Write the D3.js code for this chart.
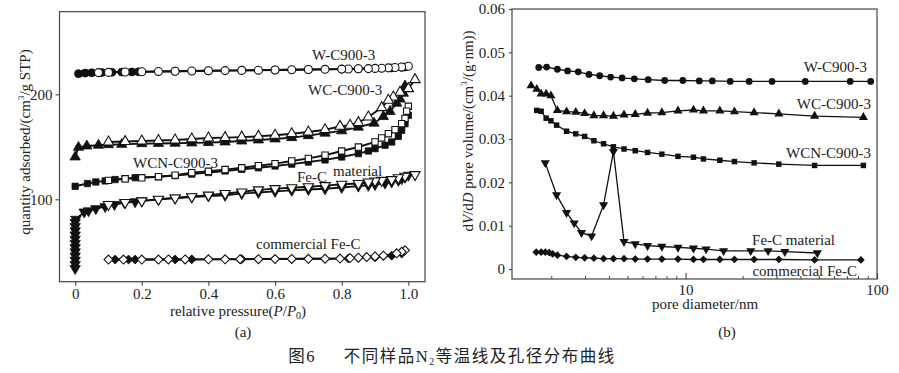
<!DOCTYPE html>
<html><head><meta charset="utf-8">
<script src="https://cdn.jsdelivr.net/npm/d3@7/dist/d3.min.js"></script>
<style>
html,body{margin:0;padding:0;background:#fff;}
svg{display:block;font-family:"Liberation Serif","Times New Roman",serif;}
</style></head>
<body>
<svg id="chart" width="899" height="373"></svg>
<script>
// ---------- (a) N2 isotherms: [P/P0, quantity adsorbed] ----------
const wAds = [[0.01,219.7],[0.03,220.2],[0.05,220.5],[0.08,220.8],[0.11,221.0],[0.14,221.2],[0.17,221.3],[0.19,221.4],[0.3,222.0],[0.4,222.4],[0.5,222.8],[0.6,223.2],[0.7,223.6],[0.8,224.0],[0.85,224.3],[0.9,224.6],[0.95,225.1],[0.98,225.7],[0.99,226.0]];
const wDes = [[1.0,226.7],[0.98,226.0],[0.96,225.5],[0.94,225.2],[0.92,224.9],[0.9,224.7],[0.88,224.5],[0.85,224.3],[0.82,224.1],[0.8,224.0],[0.75,223.8],[0.7,223.6],[0.65,223.4],[0.6,223.2],[0.55,223.0],[0.5,222.8],[0.45,222.6],[0.4,222.4],[0.35,222.2],[0.3,222.0],[0.25,221.8],[0.2,221.5],[0.15,221.2],[0.1,220.9],[0.07,220.7]];
const wcAds = [[0.0,140.3],[0.01,149.5],[0.035,150.8],[0.07,151.5],[0.1,152.0],[0.14,152.3],[0.2,153.0],[0.25,153.2],[0.3,153.4],[0.35,153.7],[0.4,154.0],[0.45,154.6],[0.5,155.5],[0.55,156.5],[0.6,157.5],[0.65,158.7],[0.7,160.6],[0.75,163.0],[0.8,165.2],[0.85,168.7],[0.897,172.5],[0.925,178.8],[0.945,183.6],[0.965,191.5],[0.975,195.4],[0.985,201.0],[0.99,208.0]];
const wcDes = [[1.02,214.0],[1.0,205.4],[0.975,202.0],[0.955,197.4],[0.94,194.3],[0.92,187.3],[0.88,178.4],[0.85,173.0],[0.825,170.5],[0.795,169.5],[0.75,166.3],[0.7,164.1],[0.65,162.5],[0.6,161.0],[0.55,160.0],[0.5,159.2],[0.45,158.7],[0.4,158.4],[0.35,157.5],[0.3,156.5],[0.25,156.0],[0.2,155.5],[0.15,155.0],[0.1,154.6]];
const wcnAds = [[0.0,112.4],[0.037,115.0],[0.062,116.5],[0.09,117.5],[0.12,118.8],[0.15,119.6],[0.18,120.6],[0.25,121.5],[0.3,122.5],[0.35,124.0],[0.4,125.5],[0.45,127.0],[0.5,128.5],[0.55,130.0],[0.6,131.7],[0.65,133.5],[0.7,135.5],[0.75,137.5],[0.8,140.3],[0.85,143.5],[0.88,146.0],[0.9,148.3],[0.93,151.5],[0.95,154.6],[0.97,160.0],[0.98,165.7],[0.99,172.0],[1.0,180.0]];
const wcnDes = [[1.0,188.6],[0.995,184.0],[0.99,177.0],[0.98,172.0],[0.96,166.3],[0.94,162.5],[0.92,158.4],[0.9,154.6],[0.85,149.8],[0.8,146.0],[0.75,142.0],[0.7,139.0],[0.65,136.5],[0.6,134.0],[0.55,132.0],[0.5,130.0],[0.45,128.3],[0.4,126.7],[0.35,125.4],[0.3,123.0],[0.25,121.5],[0.2,120.5],[0.15,119.5],[0.1,118.0]];
const feAds = [[0,34],[0,38],[0,42],[0,46],[0,50],[0,54],[0,58],[0,62],[0,66],[0,70],[0,74],[0,78],[0.002,81],[0.027,87.9],[0.04,89.0],[0.062,91.1],[0.09,93.0],[0.118,95.0],[0.148,96.8],[0.18,97.7],[0.2,98.5],[0.25,99.7],[0.3,101.3],[0.35,102.2],[0.4,103.2],[0.45,103.8],[0.5,105.4],[0.55,106.5],[0.6,107.5],[0.65,108.5],[0.7,109.3],[0.75,110.0],[0.8,111.3],[0.85,112.5],[0.88,113.3],[0.9,114.0],[0.93,115.5],[0.95,116.5],[0.97,118.0],[0.98,119.5],[0.99,121.0],[1.0,122.9]];
const feDes = [[1.02,123.5],[0.99,122.0],[0.97,120.5],[0.95,118.8],[0.92,118.0],[0.9,117.5],[0.88,116.5],[0.85,115.0],[0.8,114.3],[0.75,113.0],[0.7,112.0],[0.65,111.0],[0.6,110.2],[0.55,109.0],[0.5,107.0],[0.45,105.5],[0.4,104.0],[0.35,102.5],[0.3,101.3],[0.25,100.0],[0.2,98.5],[0.15,97.0],[0.1,95.0]];
const comAds = [[0.12,42.6],[0.16,42.6],[0.18,42.6],[0.3,42.7],[0.35,42.8],[0.5,43.0],[0.7,43.3],[0.82,43.6],[0.9,44.8],[0.95,46.3],[0.98,48.3]];
const comDes = [[0.99,51.4],[0.98,50.0],[0.965,48.5],[0.925,46.3],[0.9,45.6],[0.875,45.0],[0.85,44.4],[0.825,44.0],[0.795,43.5],[0.75,43.4],[0.7,43.3],[0.65,43.2],[0.6,43.1],[0.55,43.0],[0.495,42.9],[0.45,42.8],[0.4,42.8],[0.33,42.7],[0.28,42.7],[0.25,42.6],[0.2,42.6],[0.145,42.6],[0.1,42.6]];
const xTicksA = [0, 0.2, 0.4, 0.6, 0.8, 1.0];
const xTickLabelsA = ["0", "0.2", "0.4", "0.6", "0.8", "1.0"];
const yTicksA = [100, 200];

// ---------- (b) pore size distribution ----------
const dW = [1.71,1.88,2.14,2.42,2.75,3.13,3.56,4.06,4.66,5.40,6.38,7.78,9.68,11.8,13.8,17.1,21.5,28.3,42.2,72.4,92.7];
const vW = [0.0465,0.0466,0.0461,0.0457,0.0455,0.0449,0.0446,0.0443,0.0441,0.0439,0.0437,0.0435,0.0435,0.0434,0.0434,0.0433,0.0433,0.0433,0.0433,0.0433,0.0433];
const dWC = [1.56,1.67,1.76,1.87,1.98,2.14,2.39,2.67,2.97,3.32,3.73,4.20,4.77,5.46,6.33,7.52,9.13,11.0,12.4,15.1,18.0,22.8,30.7,47.2,84.9];
const vWC = [0.0423,0.0415,0.0404,0.0404,0.0400,0.0366,0.0363,0.0362,0.0359,0.0354,0.0354,0.0353,0.0356,0.0357,0.0360,0.0361,0.0365,0.0367,0.0365,0.0365,0.0363,0.0361,0.0358,0.0353,0.0350];
const dWCN = [1.67,1.76,1.87,1.98,2.12,2.39,2.67,2.97,3.32,3.73,4.20,4.77,5.46,6.33,7.52,9.13,11.0,12.4,15.1,18.0,22.8,30.7,47.2,84.9];
const vWCN = [0.0366,0.0364,0.0348,0.0342,0.0332,0.0318,0.0312,0.0306,0.0296,0.0289,0.0282,0.0277,0.0273,0.0269,0.0265,0.0260,0.0258,0.0254,0.0251,0.0248,0.0245,0.0242,0.0239,0.0239];
const dFe = [1.85,2.12,2.39,2.62,2.86,3.23,3.73,4.20,4.77,5.46,6.33,7.52,9.13,11.0,12.8,15.8,21.9,27.0,33.0,48.8];
const vFe = [0.0245,0.0171,0.0130,0.0106,0.0084,0.0076,0.0148,0.0271,0.0063,0.0058,0.0054,0.0052,0.0050,0.0048,0.0046,0.0042,0.0042,0.0042,0.0040,0.0037];
const dCom = [1.66,1.76,1.85,1.94,2.02,2.14,2.39,2.67,2.97,3.32,3.73,4.20,4.77,5.46,6.33,7.52,9.13,11.0,12.4,15.1,18.0,22.8,30.7,47.2,82.4];
const vCom = [0.0039,0.0039,0.0039,0.0038,0.0035,0.0032,0.0029,0.0027,0.0026,0.0025,0.0024,0.0024,0.0024,0.0023,0.0023,0.0023,0.0023,0.0022,0.0022,0.0022,0.0022,0.0022,0.0022,0.0021,0.0021];
const yTicksB = [0, 0.01, 0.02, 0.03, 0.04, 0.05, 0.06];
const yTickLabelsB = ["0", "0.01", "0.02", "0.03", "0.04", "0.05", "0.06"];
const xTicksB = [10, 100];
const minorB = [2,3,4,5,6,7,8,9,20,30,40,50,60,70,80,90];

const svg = d3.select("#chart");
const FS = 15;

// symbols
const triDown = { draw(ctx, size) { const s = Math.sqrt(size / (Math.sqrt(3) / 4)); const h = s * Math.sqrt(3) / 2; ctx.moveTo(-s/2, -h/3); ctx.lineTo(s/2, -h/3); ctx.lineTo(0, 2*h/3); ctx.closePath(); } };
const triUp = { draw(ctx, size) { const s = Math.sqrt(size / (Math.sqrt(3) / 4)); const h = s * Math.sqrt(3) / 2; ctx.moveTo(-s/2, h/3); ctx.lineTo(s/2, h/3); ctx.lineTo(0, -2*h/3); ctx.closePath(); } };
const diamond = { draw(ctx, size) { const r = Math.sqrt(size / 2); ctx.moveTo(0, -r); ctx.lineTo(r, 0); ctx.lineTo(0, r); ctx.lineTo(-r, 0); ctx.closePath(); } };

// ================= panel (a) =================
const xA = d3.scaleLinear().domain([-0.047, 1.05]).range([59.5, 425]);
const yA = d3.scaleLinear().domain([21.5, 278.7]).range([281.7, 11.7]);
const gA = svg.append("g");
gA.append("rect").attr("x", xA.range()[0]).attr("y", yA.range()[1])
  .attr("width", xA.range()[1] - xA.range()[0]).attr("height", yA.range()[0] - yA.range()[1])
  .attr("fill", "none").attr("stroke", "#444").attr("stroke-width", 1.2);

const axA = gA.append("g").attr("transform", `translate(0,${yA.range()[0]})`)
  .call(d3.axisBottom(xA).tickValues(xTicksA).tickFormat((d, i) => xTickLabelsA[i]).tickSize(4).tickPadding(3));
const ayA = gA.append("g").attr("transform", `translate(${xA.range()[0]},0)`)
  .call(d3.axisLeft(yA).tickValues(yTicksA).tickSize(4).tickPadding(3));
[axA, ayA].forEach(a => { a.select(".domain").remove(); a.selectAll("line").attr("stroke", "#444").attr("stroke-width", 1.1);
  a.selectAll("text").attr("font-size", FS).attr("font-family", "Liberation Serif").attr("fill", "#222"); });

const lineA = d3.line().x(d => xA(d[0])).y(d => yA(d[1]));
const seriesA = [
  { ads: wAds, des: wDes, sym: d3.symbolCircle, size: 50 },
  { ads: wcAds, des: wcDes, sym: triUp, size: 46 },
  { ads: wcnAds, des: wcnDes, sym: d3.symbolSquare, size: 40 },
  { ads: feAds, des: feDes, sym: triDown, size: 46 },
  { ads: comAds, des: comDes, sym: diamond, size: 40 }
];
seriesA.forEach(s => {
  [s.ads, s.des].forEach(arr => gA.append("path").attr("d", lineA(arr)).attr("fill", "none")
    .attr("stroke", "#111").attr("stroke-width", 1.9));
});
seriesA.forEach(s => {
  const sym = d3.symbol().type(s.sym).size(s.size);
  gA.append("g").selectAll("path").data(s.ads).join("path")
    .attr("transform", d => `translate(${xA(d[0])},${yA(d[1])})`).attr("d", sym)
    .attr("fill", "#111").attr("stroke", "#111").attr("stroke-width", 0.8);
  gA.append("g").selectAll("path").data(s.des).join("path")
    .attr("transform", d => `translate(${xA(d[0])},${yA(d[1])})`).attr("d", sym)
    .attr("fill", "#fff").attr("stroke", "#111").attr("stroke-width", 1.1);
});

const labA = [["W-C900-3", 312, 60], ["WC-C900-3", 308, 95], ["WCN-C900-3", 133, 168], ["Fe-C", 297, 182], ["material", 333, 176], ["commercial Fe-C", 256, 249]];
labA.forEach(l => gA.append("text").attr("x", l[1]).attr("y", l[2]).attr("font-size", FS).attr("fill", "#222").text(l[0]));

// axis titles (a)
const tA = gA.append("text").attr("x", 238).attr("y", 316).attr("text-anchor", "middle").attr("font-size", FS).attr("fill", "#222");
tA.append("tspan").text("relative pressure(");
tA.append("tspan").attr("font-style", "italic").text("P");
tA.append("tspan").text("/");
tA.append("tspan").attr("font-style", "italic").text("P");
tA.append("tspan").attr("font-size", 10).attr("dy", 3).text("0");
tA.append("tspan").attr("dy", -3).text(")");
gA.append("text").attr("x", 243).attr("y", 337).attr("text-anchor", "middle").attr("font-size", FS).attr("fill", "#222").text("(a)");

const yTitleA = gA.append("text").attr("transform", "translate(30,142) rotate(-90)").attr("text-anchor", "middle")
  .attr("font-size", FS).attr("fill", "#222");
yTitleA.append("tspan").text("quantity adsorbed/(cm");
yTitleA.append("tspan").attr("font-size", 9).attr("dy", -6).text("3");
yTitleA.append("tspan").attr("dy", 6).text("/g STP)");

// ================= panel (b) =================
const xB = d3.scaleLog().domain([1.24, 100]).range([512, 877]);
const yB = d3.scaleLinear().domain([-0.0023, 0.06]).range([279, 9]);
const gB = svg.append("g");
gB.append("rect").attr("x", 512).attr("y", 9).attr("width", 877 - 512).attr("height", 279 - 9)
  .attr("fill", "none").attr("stroke", "#444").attr("stroke-width", 1.2);

const ayB = gB.append("g").attr("transform", `translate(${xB.range()[0]},0)`)
  .call(d3.axisLeft(yB).tickValues(yTicksB).tickFormat((d, i) => yTickLabelsB[i]).tickSize(3).tickPadding(4));
const axB = gB.append("g").attr("transform", `translate(0,${yB.range()[0]})`)
  .call(d3.axisBottom(xB).tickValues(xTicksB).tickFormat(d3.format("d")).tickSize(-6).tickPadding(5));
gB.append("g").selectAll("line").data(minorB).join("line")
  .attr("x1", d => xB(d)).attr("x2", d => xB(d)).attr("y1", yB.range()[0]).attr("y2", yB.range()[0] - 3)
  .attr("stroke", "#444").attr("stroke-width", 1);
[axB, ayB].forEach(a => { a.select(".domain").remove(); a.selectAll("line").attr("stroke", "#444").attr("stroke-width", 1.1);
  a.selectAll("text").attr("font-size", FS).attr("font-family", "Liberation Serif").attr("fill", "#222"); });

const seriesB = [
  { d: dW, v: vW, sym: d3.symbolCircle, size: 36 },
  { d: dWC, v: vWC, sym: triUp, size: 36 },
  { d: dWCN, v: vWCN, sym: d3.symbolSquare, size: 30 },
  { d: dFe, v: vFe, sym: triDown, size: 36 },
  { d: dCom, v: vCom, sym: diamond, size: 30 }
];
const lineB = d3.line().x(d => xB(d[0])).y(d => yB(d[1]));
seriesB.forEach(s => {
  const pts = s.d.map((x, i) => [x, s.v[i]]);
  gB.append("path").attr("d", lineB(pts)).attr("fill", "none").attr("stroke", "#111").attr("stroke-width", 1.3);
  const sym = d3.symbol().type(s.sym).size(s.size);
  gB.append("g").selectAll("path").data(pts).join("path")
    .attr("transform", p => `translate(${xB(p[0])},${yB(p[1])})`).attr("d", sym).attr("fill", "#111");
});

const labB = [["W-C900-3", 867, 72], ["WC-C900-3", 871, 109], ["WCN-C900-3", 871, 158], ["Fe-C material", 835, 245], ["commercial Fe-C", 857, 276]];
labB.forEach(l => gB.append("text").attr("x", l[1]).attr("y", l[2]).attr("text-anchor", "end").attr("font-size", FS).attr("fill", "#222").text(l[0]));

gB.append("text").attr("x", 705).attr("y", 309).attr("text-anchor", "middle").attr("font-size", FS).attr("fill", "#222").text("pore diameter/nm");
gB.append("text").attr("x", 727).attr("y", 337).attr("text-anchor", "middle").attr("font-size", FS).attr("fill", "#222").text("(b)");

const yTitleB = gB.append("text").attr("transform", "translate(473,131) rotate(-90)").attr("text-anchor", "middle")
  .attr("font-size", FS).attr("fill", "#222");
yTitleB.append("tspan").text("d");
yTitleB.append("tspan").attr("font-style", "italic").text("V");
yTitleB.append("tspan").text("/d");
yTitleB.append("tspan").attr("font-style", "italic").text("D");
yTitleB.append("tspan").text(" pore volume/(cm");
yTitleB.append("tspan").attr("font-size", 9).attr("dy", -6).text("3");
yTitleB.append("tspan").attr("dy", 6).text("/(g·nm))");

// caption
const cap = svg.append("text").attr("x", 452).attr("y", 362).attr("text-anchor", "middle")
  .attr("font-size", 16.5).attr("letter-spacing", 1.5).attr("fill", "#222")
  .attr("font-family", "'Liberation Serif','Noto Sans CJK SC',serif");
cap.append("tspan").text("图6\u2003\u2002不同样品N");
cap.append("tspan").attr("font-size", 10).attr("dy", 3).text("2");
cap.append("tspan").attr("dy", -3).text("等温线及孔径分布曲线");
</script>
</body></html>
